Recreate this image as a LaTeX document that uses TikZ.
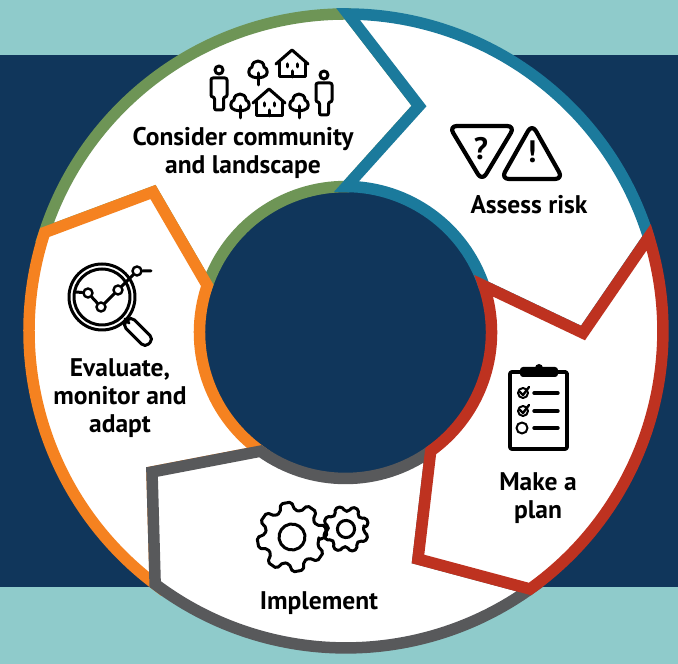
\documentclass[tikz,border=0pt]{standalone}
\usepackage{fontspec}
\setmainfont{PT Sans}
\definecolor{tealbg}{HTML}{8FCBCB}
\definecolor{navybg}{HTML}{10365B}
\definecolor{greenseg}{HTML}{6E9556}
\definecolor{blueseg}{HTML}{1B7A9C}
\definecolor{orangeseg}{HTML}{F58220}
\definecolor{grayseg}{HTML}{58595B}
\definecolor{redseg}{HTML}{BE3220}
\tikzset{
  personicon/.pic={
    \draw[icon] (0,0) circle (4);
    \draw[icon,rounded corners=2] (-4.5,-40) -- (-4.5,-27) -- (-8,-27) -- (-8,-8) -- (8,-8) -- (8,-27) -- (4.5,-27) -- (4.5,-40) -- cycle;
  },
  treeicon/.pic={
    \draw[icon] (0,-8) -- (-5,-7) .. controls (-11,-6) and (-10,2) .. (-6,3) .. controls (-6,11) and (6,11) .. (6,3) .. controls (10,2) and (11,-6) .. (5,-7) -- cycle;
    \draw[icon] (0,-3) -- (0,-15);
  },
  houseicon/.pic={
    \draw[icon] (-16,-1) -- (0,13) -- (16,-1);
    \draw[icon] (-13,1) -- (-13,-14) -- (13,-14) -- (13,1);
    \draw[icon] (0,-14) -- (0,-8);
    \draw[icon] (-5,-4) -- (-5,-1) (5,-4) -- (5,-1);
  },
  gearicon/.pic={
    \draw[icon,rounded corners=2] (-16:27)
      \foreach \a in {0,45,...,315} {
        -- (\a-16:27) -- (\a-9:35) -- (\a+9:35) -- (\a+16:27)
      } -- cycle;
    \draw[icon] (0,0) circle (13);
  }
}
\begin{document}
\begin{tikzpicture}[x=1pt, y=1pt, line join=miter]
        \tikzstyle{segment}=[line width=11.5pt, fill=white, miter limit=6]
        \tikzstyle{icon}=[draw=black, line width=3pt, line cap=round, line join=round]
        \tikzstyle{dotnode}=[draw=black, fill=white, line width=2.4pt, shape=circle, inner sep=0pt, minimum size=9pt]
        \tikzstyle{label}=[align=center, text=black, inner sep=0pt, font=\fontsize{25.5}{28}\selectfont\bfseries]

        \useasboundingbox (0,0) rectangle (678,664);

        % background bands
        \fill[tealbg] (0,0) rectangle (678,664);
        \fill[navybg] (0,77) rectangle (678,609);

        % corners of the ring segments
        \coordinate (top-o) at (348,650);
        \coordinate (right-o) at (648.8,426.7);
        \coordinate (left-o) at (44.7,431.5);
        \coordinate (low-left-o) at (155.2,79.8);
        \coordinate (low-right-o) at (530,75);
        \coordinate (top-i) at (346.5,477.5);
        \coordinate (right-i) at (483.9,378.1);
        \coordinate (low-right-i) at (430.7,212.9);
        \coordinate (low-left-i) at (260.5,212.8);
        \coordinate (left-i) at (207.3,378.5);
        \coordinate (green-tip) at (419,558);
        \coordinate (orange-tip) at (153,472);
        \coordinate (gray-tip) at (152,192);
        \coordinate (red-tip) at (418,105);
        \coordinate (blue-tip) at (583,331);

        % ring segments, later ones lie over earlier ones
        \draw[segment, draw=greenseg] (top-o) arc[start angle=89.6, end angle=161.9, radius=317pt]
            -- (orange-tip) -- (left-i) arc[start angle=161.2, end angle=89.6, radius=146pt] -- (green-tip) -- cycle;
        \draw[segment, draw=blueseg] (top-o) arc[start angle=89.6, end angle=17.2, radius=317pt]
            -- (blue-tip) -- (right-i) arc[start angle=18.6, end angle=89.6, radius=146pt] -- (green-tip) -- cycle;
        \draw[segment, draw=orangeseg] (left-o) arc[start angle=161.9, end angle=233, radius=317pt]
            -- (gray-tip) -- (low-left-i) arc[start angle=234.4, end angle=161.2, radius=146pt] -- (orange-tip) -- cycle;
        \draw[segment, draw=grayseg] (gray-tip) -- (low-left-i) arc[start angle=234.4, end angle=305.7, radius=146pt]
            -- (red-tip) -- (low-right-o) arc[start angle=-54.5, end angle=-127, radius=317pt] -- cycle;
        \draw[segment, draw=redseg] (low-right-i) -- (red-tip) -- (low-right-o) arc[start angle=-54.5, end angle=17.2, radius=317pt]
            -- (blue-tip) -- (right-i) arc[start angle=18.6, end angle=-54.3, radius=146pt] -- cycle;

        % labels
        \node[label](community) at (243,511){Consider community\\and landscape};
        \node[label](risk) at (529,459){Assess risk};
        \node[label](plan) at (538,166){Make a\\plan};
        \node[label](implement) at (319,61){Implement};
        \node[label](evaluate) at (120,266){Evaluate,\\monitor and\\adapt};

        % community icon
        \pic at (219,594) {personicon};
        \pic at (324,589) {personicon};
        \pic at (258,594) {treeicon};
        \pic at (240,561) {treeicon};
        \pic at (299,561) {treeicon};
        \pic at (292,601) {houseicon};
        \pic at (269,562) {houseicon};

        % risk icon
        \draw[icon, line width=4.2pt, rounded corners=8pt] (449,538) -- (515,538) -- (482,483) -- cycle;
        \draw[icon, line width=4.2pt, rounded corners=8pt] (532,540) -- (501,485) -- (563,485) -- cycle;
        \node[inner sep=0pt, font=\fontsize{31}{31}\selectfont\bfseries](question) at (481,515){?};
        \node[inner sep=0pt, font=\fontsize{31}{31}\selectfont\bfseries](warning) at (532,512){!};

        % evaluate icon
        \draw[icon] (102,367) circle (33);
        \draw[icon] (102,367) circle (28);
        \draw[icon] (125,345) -- (129,341);
        \draw[icon, rounded corners=5pt, rotate around={-45:(138,332)}] (122,326) rectangle (154,338);
        \node[dotnode](chart-a) at (88,371){};
        \node[dotnode](chart-b) at (101,357){};
        \node[dotnode](chart-c) at (118,374){};
        \node[dotnode](chart-d) at (137,393){};
        \coordinate (chart-start) at (76,372);
        \coordinate (chart-end) at (151,393);
        \draw[icon] (chart-start) -- (chart-a) -- (chart-b) -- (chart-c) -- (chart-d) -- (chart-end);

        % plan icon
        \draw[icon, line width=3.8pt, rounded corners=2pt] (510,292) -- (510,215) -- (567,215) -- (567,292) -- cycle;
        \fill[black, rounded corners=3pt] (520,287) rectangle (558,297);
        \fill[black] (539,296) circle (4);
        \foreach \y/\x in {271/523, 253/523} {
            \draw[icon, line width=2pt] (\x,\y) circle (5);
            \draw[icon, line width=2.4pt] (\x-3,\y+1) -- (\x,\y-2) -- (\x+6,\y+6);
            \draw[icon, line width=3.4pt] (\x+11,\y) -- (558,\y);
        }
        \draw[icon, line width=2pt] (522,236) circle (5.5);
        \draw[icon, line width=3.4pt] (534,236) -- (558,236);

        % implement icon
        \pic[rotate=10] at (292,127) {gearicon};
        \pic[rotate=20, scale=.66] at (346,135) {gearicon};
\end{tikzpicture}
\end{document}
